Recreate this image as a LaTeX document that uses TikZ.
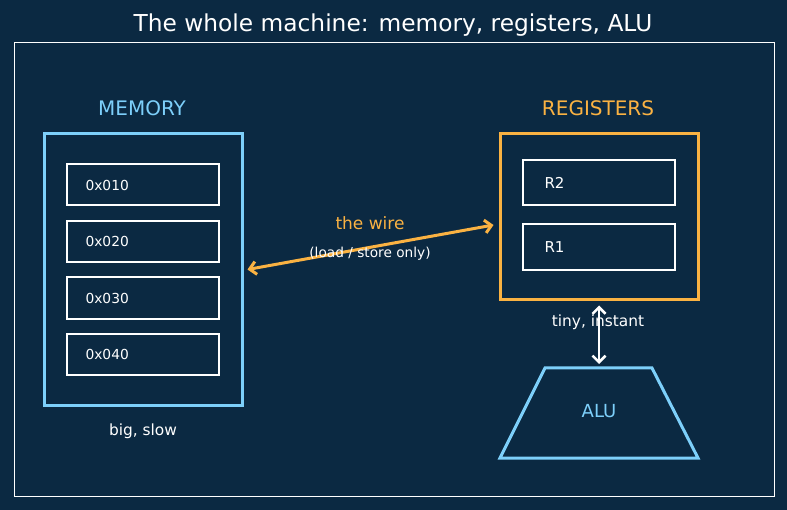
\documentclass[tikz,border=0pt]{standalone}
\usepackage{fontspec}
\setmainfont{DejaVu Sans}
\usetikzlibrary{arrows.meta}
\definecolor{bgnavy}{RGB}{11,41,66}
\definecolor{memblue}{RGB}{125,207,250}
\definecolor{regorange}{RGB}{250,178,66}
\tikzset{
  unitbox/.style={draw=#1, line width=3pt, minimum width=198pt, inner sep=0pt},
  cell/.style={draw=white, line width=1.3pt, minimum width=152pt, inner sep=0pt},
  celltext/.style={anchor=west, text=white, font=\fontsize{13.8}{16}\selectfont},
  heading/.style={font=\fontsize{20}{24}\selectfont},
  note/.style={text=white, font=\fontsize{15.4}{18}\selectfont},
  twohead/.style={{Straight Barb[length=6.5pt,width=13pt]}-{Straight Barb[length=6.5pt,width=13pt]}, line width=#1}
}
\begin{document}
\begin{tikzpicture}[x=1pt, y=-1pt]
\fill[bgnavy] (0,0) rectangle (787,510);
\useasboundingbox (0,0) rectangle (787,510);

% Frame and title
\draw[white, line width=1pt] (14,43) rectangle (774,496);
\node[text=white, font=\fontsize{23.3}{27}\selectfont] (title) at (393,25) {The whole machine: memory, registers, ALU};

% Memory
\node[heading, text=memblue] (memlabel) at (142,108) {MEMORY};
\node[unitbox=memblue, minimum height=271pt] (mem) at (143,269.5) {};
\node[cell, minimum height=41pt] (c1) at (143,184.5) {};
\node[cell, minimum height=41pt] (c2) at (143,241.5) {};
\node[cell, minimum height=42pt] (c3) at (143,298) {};
\node[cell, minimum height=41pt] (c4) at (143,354.5) {};
\node[celltext] at (82,185) {0x010};
\node[celltext] at (82,241.5) {0x020};
\node[celltext] at (82,298.5) {0x030};
\node[celltext] at (82,354.5) {0x040};
\node[note] (memnote) at (143,431) {big, slow};

% Registers
\node[heading, text=regorange] (reglabel) at (598,108) {REGISTERS};
\node[unitbox=regorange, minimum height=166pt] (reg) at (599,217) {};
\node[cell, minimum height=45pt] (r2) at (599,182.5) {};
\node[cell, minimum height=46pt] (r1) at (599,247) {};
\node[celltext, font=\fontsize{15}{18}\selectfont] at (541,183) {R2};
\node[celltext, font=\fontsize{15}{18}\selectfont] at (541,247) {R1};
\node[note] (regnote) at (598,322) {tiny, instant};

% ALU
\draw[memblue, line width=3pt, line join=miter] (545,368) -- (652,368) -- (698,458) -- (500,458) -- cycle;
\coordinate (alutop) at (599,368);
\node[text=memblue, font=\fontsize{18}{21}\selectfont] (alu) at (599,411) {ALU};

% The wire
\draw[twohead=3pt, regorange] ([xshift=4pt]mem.east) -- ([xshift=-5pt,yshift=-8pt]reg.west);
\node[text=regorange, font=\fontsize{17}{20}\selectfont] (wire) at (370,223) {the wire};
\node[text=white, font=\fontsize{13.7}{16}\selectfont] (wirenote) at (370,254) {(load / store only)};

\draw[twohead=2.5pt, white] ([yshift=-4pt]reg.south) -- ([yshift=4pt]alutop);

\end{tikzpicture}
\end{document}
